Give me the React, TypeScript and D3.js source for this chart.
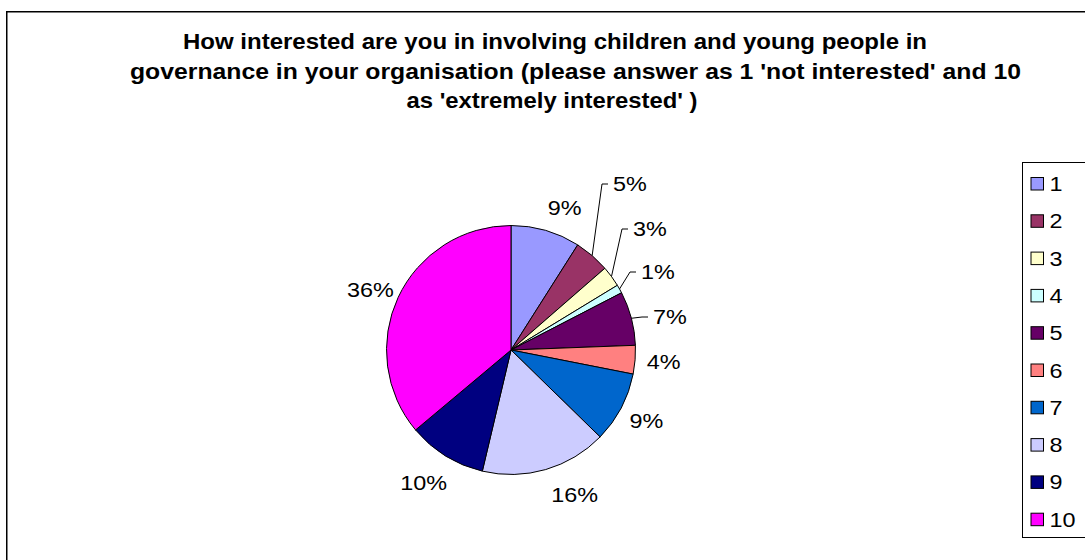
import React from "react";
import * as d3 from "d3";

const categories = ["1", "2", "3", "4", "5", "6", "7", "8", "9", "10"];
const values = [9, 4.6, 2.7, 1.1, 7, 3.7, 9.2, 16.4, 10.2, 36.1];
const colors = ["#9999FF", "#993366", "#FFFFCC", "#CCFFFF", "#660066", "#FF8080", "#0066CC", "#CCCCFF", "#000080", "#FF00FF"];
const titleLines = [
  "How interested are you in involving children and young people in",
  "governance in your organisation (please answer as 1 'not interested' and 10",
  "as 'extremely interested' )",
];

// layout (not data)
const W = 1085, H = 560;
const cx = 511, cy = 350, R = 124.5;
const labelR = 153;
const titleCenters = [555, 575.5, 552];
const titleLengths = [744, 891, 291];
// label nudges from the default polar position
const labelNudge: Record<number, [number, number]> = {
  0: [11, 5],
  7: [21, -2],
  8: [-7, 3],
  9: [-2, 5],
};
// labels moved out with leader lines for crowded small slices
const labelMoves: Record<number, { x: number; y: number }> = {
  1: { x: 630, y: 184 },
  2: { x: 650, y: 229 },
  3: { x: 658, y: 272 },
  4: { x: 670, y: 317 },
};
const SX = 1.2;

export default function App() {
  const pie = d3.pie<number>().sort(null).value((d) => d).startAngle(0).endAngle(2 * Math.PI);
  const arcs = pie(values);
  const arc = d3.arc<d3.PieArcDatum<number>>().innerRadius(0).outerRadius(R);
  const total = d3.sum(values);
  const fmt = (v: number) => `${Math.round((v / total) * 100)}%`;
  const font = "'Liberation Sans', Arial, Helvetica, sans-serif";

  return (
    <div style={{ position: "absolute", left: 0, top: 0 }}>
      <svg width={W} height={H} style={{ display: "block", fontFamily: font }}>
        <rect x={0} y={0} width={W} height={H} fill="#fff" />
        <rect x={6.75} y={11.75} width={W + 20} height={H + 20} fill="none" stroke="#000" strokeWidth={1.5} />
        {titleLines.map((t, i) => (
          <text
            key={i}
            x={titleCenters[i]}
            y={49 + i * 29.5}
            textAnchor="middle"
            fontWeight="bold"
            fontSize={22}
            textLength={titleLengths[i]}
            lengthAdjust="spacingAndGlyphs"
          >
            {t}
          </text>
        ))}
        <g transform={`translate(${cx},${cy})`}>
          {arcs.map((a, i) => (
            <path key={i} d={arc(a) || ""} fill={colors[i]} stroke="#000" strokeWidth={1} strokeLinejoin="round" />
          ))}
        </g>
        {arcs.map((a, i) => {
          const mid = (a.startAngle + a.endAngle) / 2;
          const ex = cx + R * Math.sin(mid);
          const ey = cy - R * Math.cos(mid);
          const mv = labelMoves[i];
          const nd = labelNudge[i] || [0, 0];
          let lx = cx + labelR * Math.sin(mid) + nd[0];
          let ly = cy - labelR * Math.cos(mid) + nd[1];
          let leader = null;
          if (mv) {
            lx = mv.x;
            ly = mv.y;
            const bx = lx - 22;
            leader = (
              <polyline
                points={`${ex},${ey} ${bx - 6},${ly} ${bx},${ly}`}
                fill="none"
                stroke="#000"
                strokeWidth={1}
              />
            );
          }
          return (
            <g key={i}>
              {leader}
              <text
                transform={`translate(${lx},${ly + 7}) scale(${SX},1)`}
                textAnchor="middle"
                fontSize={19.5}
              >
                {fmt(values[i])}
              </text>
            </g>
          );
        })}
        <rect x={1022.5} y={162.5} width={100} height={375} fill="#fff" stroke="#000" strokeWidth={1} />
        {categories.map((c, i) => {
          const y = 184 + i * 37.3;
          return (
            <g key={c}>
              <rect x={1031} y={y - 6.5} width={12.5} height={12.5} fill={colors[i]} stroke="#000" strokeWidth={1} />
              <text transform={`translate(1049.5,${y + 7}) scale(${SX},1)`} fontSize={19.5}>
                {c}
              </text>
            </g>
          );
        })}
      </svg>
    </div>
  );
}
